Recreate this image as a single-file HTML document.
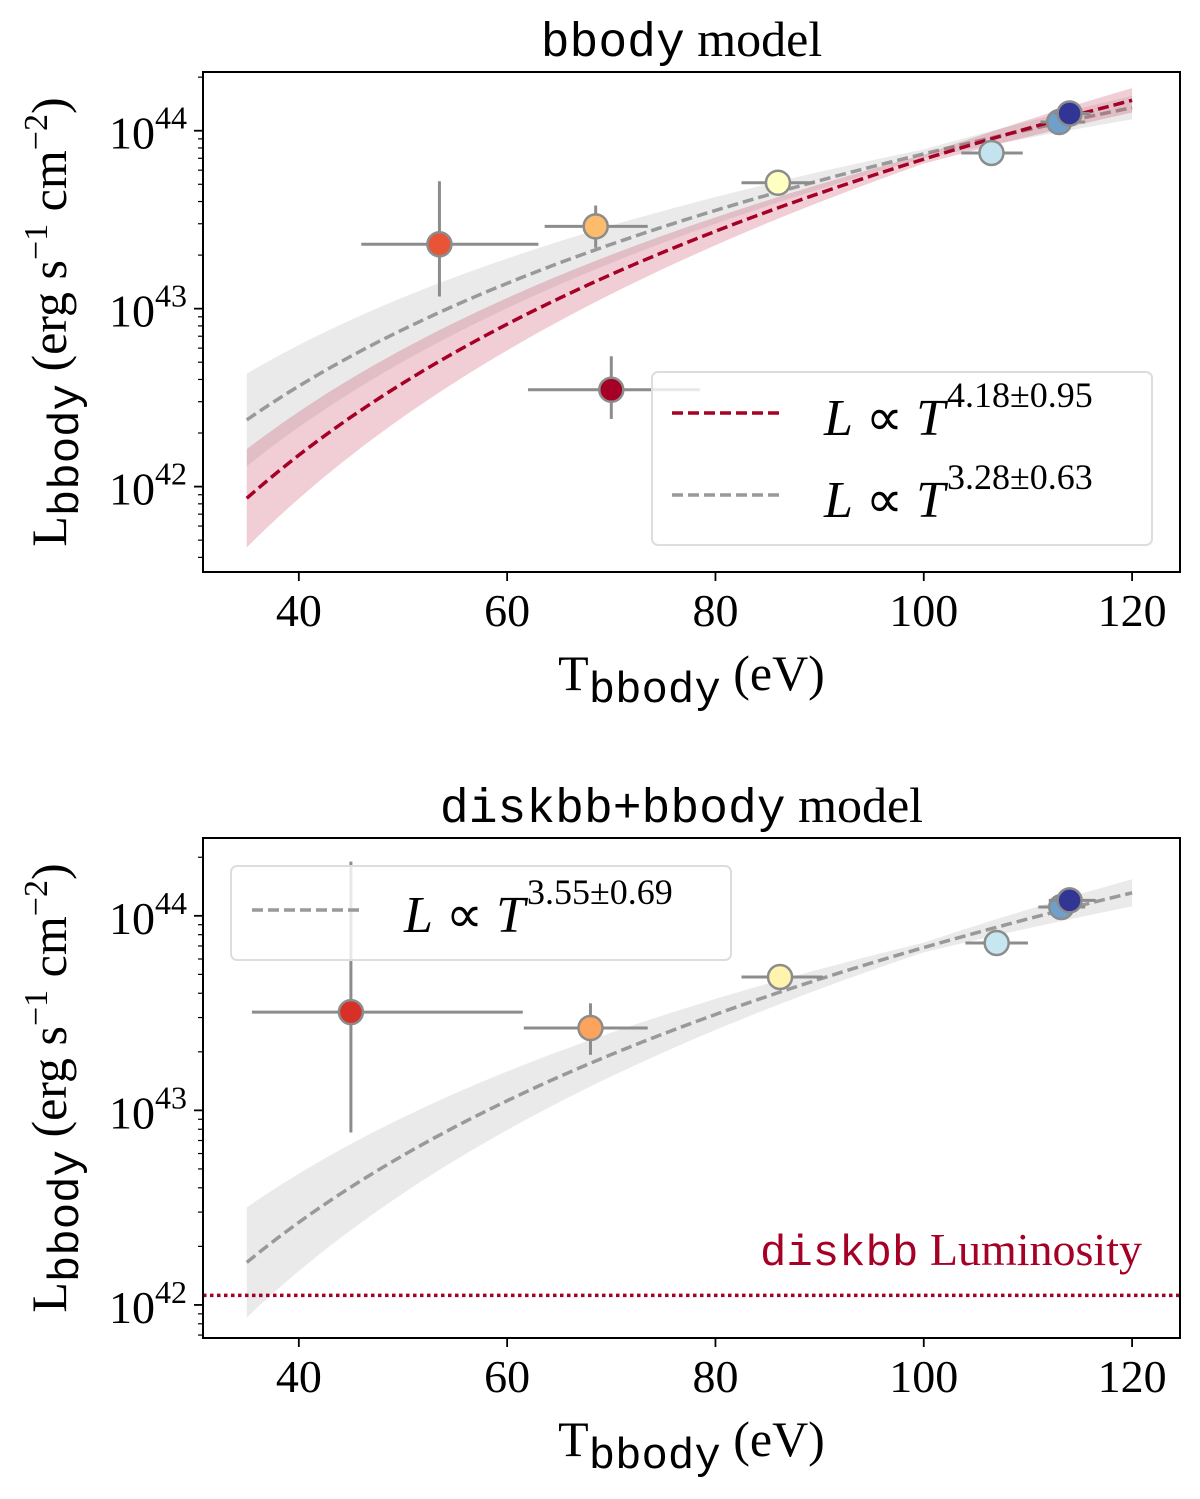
<!DOCTYPE html>
<html><head><meta charset="utf-8"><style>
body{margin:0;background:#fff}
svg text{font-family:"Liberation Serif",serif}
.mono{font-family:"Liberation Mono",monospace;font-weight:normal}
</style></head><body>
<svg id="s" width="1200" height="1494" viewBox="0 0 1200 1494" xmlns="http://www.w3.org/2000/svg"></svg>
<script>
// ---- Panel 1 data (bbody model)
const p1T=[53.5,68.5,70,86,106.5,113,114];
const p1Tlo=[46,63.6,62,82.5,103.6,111.2,112.5];
const p1Thi=[63,73.5,78.5,89.5,109.5,115.5,116];
const p1L=[2.3e43,2.9e43,3.5e42,5.1e43,7.5e43,1.12e44,1.25e44];
const p1Llo=[1.17e43,2.2e43,2.4e42,4.8e43,7.1e43,1.07e44,1.2e44];
const p1Lhi=[5.2e43,3.8e43,5.4e42,5.4e43,7.9e43,1.17e44,1.3e44];
const p1Col=["#e95437","#fdbb6c","#a50026","#feffc0","#c3e4ef","#6fa0cc","#313695"];
// ---- Panel 2 data (diskbb+bbody model)
const p2T=[45,68,86.2,107,113.2,114];
const p2Tlo=[35.5,61.6,82.5,104,111,112];
const p2Thi=[61.5,73.5,90.3,110,115.5,116.5];
const p2L=[3.2e43,2.65e43,4.85e43,7.25e43,1.11e44,1.2e44];
const p2Llo=[7.7e42,1.93e43,4.6e43,6.9e43,1.06e44,1.15e44];
const p2Lhi=[1.9e44,3.55e43,5.1e43,7.6e43,1.16e44,1.25e44];
const p2Col=["#d73027","#fca35d","#fff4ae","#c6e6f0","#6fa0cc","#313695"];
// fits: normalization at 100 eV (log10), index, band scale
const fitNames=["fit-red-p1","fit-gray-p1","fit-gray-p2"];
const fitLog100=[43.84,43.87,43.837];
const fitIdx=[4.18,3.28,3.55];
const fitErr=[0.95,0.63,0.69];
const diskbbL=[1.12e42];
const xTicks=[40,60,80,100,120];
const yTicks=[42,43,44];

const NS="http://www.w3.org/2000/svg";
const svg=document.getElementById('s');
function mk(tag,at,par){const e=document.createElementNS(NS,tag);for(const k in at)e.setAttribute(k,at[k]);(par||svg).appendChild(e);return e;}

function panel(cfg){
  const g=mk('g',{});
  
  
  const X=t=>cfg.x0+(t-cfg.t0)/(cfg.t1-cfg.t0)*(cfg.x1-cfg.x0);
  const Y=L=>cfg.y1-(Math.log10(L)-cfg.l0)/(cfg.l1-cfg.l0)*(cfg.y1-cfg.y0);
  const YL=l=>cfg.y1-(l-cfg.l0)/(cfg.l1-cfg.l0)*(cfg.y1-cfg.y0);
  const cid='c'+cfg.name;
  const cp=mk('clipPath',{id:cid},g);mk('rect',{x:cfg.x0,y:cfg.y0,width:cfg.x1-cfg.x0,height:cfg.y1-cfg.y0},cp);
  const pg=mk('g',{'clip-path':`url(#${cid})`},g);
  cfg.fits.forEach(fi=>{
    const ts=[];for(let t=35;t<=120.001;t+=1)ts.push(t);
    const s=fitErr[fi]*(fi==0?0.58:0.82);
    let up=[],lo=[],ln=[];
    ts.forEach(t=>{const lr=Math.log10(t/100);const c=fitLog100[fi]+fitIdx[fi]*lr;const w=s*Math.abs(lr)+0.025;
      up.push(X(t)+','+YL(c+w));lo.unshift(X(t)+','+YL(c-w));ln.push(X(t)+','+YL(c));});
    const col=fi==0?'#a50026':'#999';
    const b=mk('polygon',{points:up.concat(lo).join(' '),fill:fi==0?'rgba(200,60,90,0.25)':'rgba(150,150,150,0.2)'},pg);
    
    
    const l=mk('polyline',{points:ln.join(' '),fill:'none',stroke:col,'stroke-width':3.5,'stroke-dasharray':'11,5'},pg);
    
    
  });
  if(cfg.diskbb){
    const d=mk('line',{x1:cfg.x0,x2:cfg.x1,y1:Y(diskbbL[0]),y2:Y(diskbbL[0]),stroke:'#a50026','stroke-width':3.5,'stroke-dasharray':'3.5,3.5'},pg);
    
    
  }
  cfg.T.forEach((t,i)=>{
    const pt=mk('g',{},pg);
    
    
    mk('line',{x1:X(cfg.Tlo[i]),x2:X(cfg.Thi[i]),y1:Y(cfg.L[i]),y2:Y(cfg.L[i]),stroke:'#8c8c8c','stroke-width':3},pt);
    mk('line',{x1:X(t),x2:X(t),y1:Y(cfg.Llo[i]),y2:Y(cfg.Lhi[i]),stroke:'#8c8c8c','stroke-width':3},pt);
    mk('circle',{cx:X(t),cy:Y(cfg.L[i]),r:12,fill:cfg.col[i],stroke:'#8c8c8c','stroke-width':2.5},pt);
  });
  mk('rect',{x:cfg.x0,y:cfg.y0,width:cfg.x1-cfg.x0,height:cfg.y1-cfg.y0,fill:'none',stroke:'#000','stroke-width':2},g);
  xTicks.forEach(t=>{
    mk('line',{x1:X(t),x2:X(t),y1:cfg.y1,y2:cfg.y1+9,stroke:'#000','stroke-width':1.8},g);
    const tx=mk('text',{x:X(t),y:cfg.y1+54,'font-size':46,'text-anchor':'middle'},g);tx.textContent=t;
    
    
  });
  for(let d=Math.floor(cfg.l0);d<=Math.ceil(cfg.l1);d++){
    for(let m=1;m<10;m++){const l=d+Math.log10(m);if(l<cfg.l0||l>cfg.l1)continue;
      mk('line',{x1:cfg.x0-(m==1?9:5),x2:cfg.x0,y1:YL(l),y2:YL(l),stroke:'#000','stroke-width':m==1?1.8:1.2},g);}
  }
  yTicks.forEach(d=>{
    const tx=mk('text',{x:cfg.x0-16,y:YL(d)+18,'font-size':46,'text-anchor':'end'},g);
    tx.innerHTML='10<tspan dy="-20" font-size="32">'+d+'</tspan>';
    
    
  });
  const ti=mk('text',{x:(cfg.x0+cfg.x1)/2-10,y:cfg.y0-16,'font-size':50,'text-anchor':'middle'},g);
  ti.innerHTML='<tspan class="mono" font-size="48">'+cfg.title+'</tspan> model';
  
  
  const xl=mk('text',{x:(cfg.x0+cfg.x1)/2,y:cfg.y1+118,'font-size':50,'text-anchor':'middle'},g);
  xl.innerHTML='T<tspan class="mono" dy="12" font-size="44">bbody</tspan><tspan dy="-12"> (eV)</tspan>';
  
  
  const cy=(cfg.y0+cfg.y1)/2;
  const yl=mk('text',{x:0,y:0,'font-size':50,'text-anchor':'middle',transform:`translate(66,${cy}) rotate(-90)`},g);
  yl.innerHTML='L<tspan class="mono" dy="12" font-size="44">bbody</tspan><tspan dy="-12"> (erg s</tspan><tspan dy="-19" font-size="34">−1</tspan><tspan dy="19"> cm</tspan><tspan dy="-19" font-size="34">−2</tspan><tspan dy="19">)</tspan>';
  
  
  return {g,X,Y};
}

const P1=panel({name:'bbody-panel',x0:203,x1:1180,y0:72,y1:572,t0:30.8,t1:124.6,l0:41.52,l1:44.33,
  T:p1T,Tlo:p1Tlo,Thi:p1Thi,L:p1L,Llo:p1Llo,Lhi:p1Lhi,col:p1Col,fits:[1,0],title:'bbody'});
const P2=panel({name:'diskbb-bbody-panel',x0:203,x1:1180,y0:838,y1:1338,t0:30.8,t1:124.6,l0:41.83,l1:44.4,
  T:p2T,Tlo:p2Tlo,Thi:p2Thi,L:p2L,Llo:p2Llo,Lhi:p2Lhi,col:p2Col,fits:[2],diskbb:true,title:'diskbb+bbody'});

function legendEntry(par,x,y,col,label,name){
  const e=mk('g',{},par);
  
  
  mk('line',{x1:x,x2:x+108,y1:y,y2:y,stroke:col,'stroke-width':3.5,'stroke-dasharray':'11,5'},e);
  const t=mk('text',{x:x+152,y:y+22,'font-size':52},e);
  t.innerHTML='<tspan font-style="italic">L</tspan> ∝ <tspan font-style="italic">T</tspan><tspan dx="2" dy="-28" font-size="36">'+label+'</tspan>';
}
const lg1=mk('g',{});


mk('rect',{x:652,y:372,width:500,height:173,rx:6,fill:'rgba(255,255,255,0.8)',stroke:'#ddd','stroke-width':2},lg1);
legendEntry(lg1,672,413,'#a50026','4.18±0.95','legend-entry-red-fit');
legendEntry(lg1,672,495,'#999','3.28±0.63','legend-entry-gray-fit');
const lg2=mk('g',{});


mk('rect',{x:231,y:866,width:500,height:94,rx:6,fill:'rgba(255,255,255,0.8)',stroke:'#ddd','stroke-width':2},lg2);
legendEntry(lg2,252,910,'#999','3.55±0.69','legend-entry-gray-fit-2');
const dl=mk('text',{x:1142,y:1265,'font-size':46,'text-anchor':'end',fill:'#a50026'});
dl.innerHTML='<tspan class="mono" font-size="44">diskbb</tspan> Luminosity';


</script>
</body></html>
